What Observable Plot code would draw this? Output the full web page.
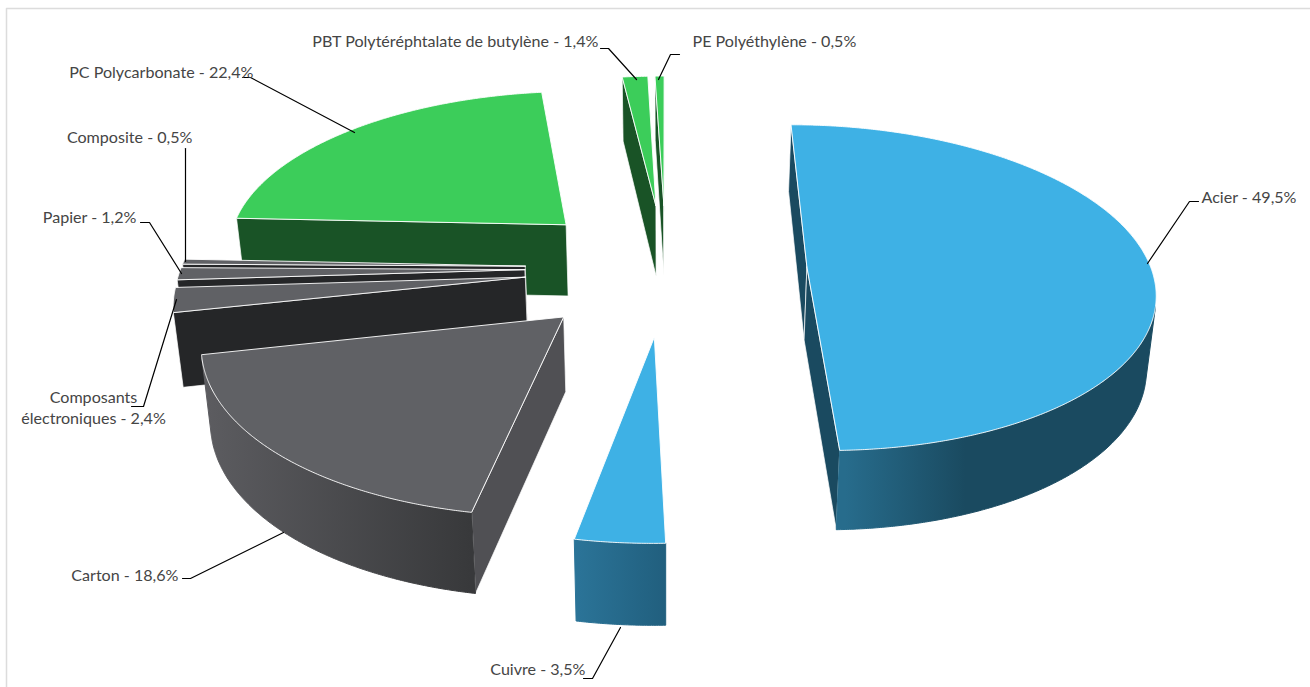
<!DOCTYPE html>
<html><head><meta charset="utf-8">
<script src="https://cdn.jsdelivr.net/npm/d3@7"></script>
<script src="https://cdn.jsdelivr.net/npm/@observablehq/plot@0.6"></script>
<style>html,body{margin:0;padding:0;background:#fff;overflow:hidden}svg{display:block}</style>
</head><body><div id="chart"></div>
<script>
// ---- data ----
const materials = ["Acier","Cuivre","Carton","Composants\nélectroniques","Papier","Composite","PC Polycarbonate","PBT Polytéréphtalate de butylène","PE Polyéthylène"];
const shares = [49.5,3.5,18.6,2.4,1.2,0.5,22.4,1.4,0.5];
const shareLabels = ["49,5%","3,5%","18,6%","2,4%","1,2%","0,5%","22,4%","1,4%","0,5%"];
const families = ["blue","blue","grey","dark","dark","dark","green","green","green"];

// ---- layout and styles (not data) ----
const W = 1310, H = 687;
const view = {cx:665.5, cy:267.5, R:344, k:160.5, p:0.127, explode:0.41, start:0};
const paintOrder = [8,7,6,5,4,3,2,0,1];
const topColor = {blue:"#3EB1E5", green:"#3CCD5A", grey:"#606165", dark:"#606165"};
const sideColor = {blue:"#1A4A60", green:"#195326", grey:"#505054", dark:"#252628"};
const gradients = [
  {id:"gAcier", x1:845, x2:965, c1:"#276C8C", c2:"#1A4A60"},
  {id:"gCuivre", x1:575, x2:665, c1:"#2B7498", c2:"#215F7E"},
  {id:"gCarton", x1:205, x2:470, c1:"#5C5C60", c2:"#38393B"}
];
const outerFill = ["url(#gAcier)","url(#gCuivre)","url(#gCarton)",null,null,null,"#195326","#195326","#195326"];
// leader elbows and text positions of the labels, screen pixels
const leaderPaths = [
  [[1147,263],[1189,201],[1198,201]],
  [[620,627],[592,678],[583,678]],
  [[283,532],[190,578],[182,578]],
  [[176,299],[143,406],[131,406]],
  [[181,273],[149,222],[140,222]],
  [[185,261],[185,148]],
  [[354,132],[250,77],[242,77]],
  [[636,79],[608,48],[600,48]],
  [[658,79],[670,54],[679,54]]
];
const labelPos = [
  {x:1201,y:196,a:"start"},{x:585,y:668,a:"end"},{x:178,y:574,a:"end"},
  {x:93,y:406,a:"middle"},{x:136,y:216,a:"end"},{x:192,y:136,a:"end"},
  {x:253,y:71,a:"end"},{x:598,y:40,a:"end"},{x:692,y:40,a:"start"}
];

// ---- geometry from the shares ----
const rad = d => d*Math.PI/180;
function projTop(X,Y){const w=1+view.p*Y;return {x:view.cx+view.R*X/w,y:view.cy-view.k*Y/w,w};}
function projBottom(X,Y){const t=projTop(X,Y);return {x:view.cx+(t.x-view.cx)*0.98,y:t.y+64+(1.18-t.w)*50};}
function area(q){let s=0;q.forEach((a,i)=>{const b=q[(i+1)%q.length];s+=a.x*b.y-b.x*a.y;});return s;}

const total = d3.sum(shares);
let acc = view.start;
const slices = shares.map((v,i)=>{
  const a0=acc,a1=acc+v/total*360;acc=a1;
  const mid=rad((a0+a1)/2);
  const X0=view.explode*Math.sin(mid),Y0=view.explode*Math.cos(mid);
  const n=Math.max(2,Math.ceil((a1-a0)*3));
  const rim=d3.range(n+1).map(j=>{const a=rad(a0+(a1-a0)*j/n);return [X0+Math.sin(a),Y0+Math.cos(a)];});
  return {i,X0,Y0,rim,fam:families[i]};
});

function faces(s){
  const out=[];
  const rt=s.rim.map(p=>projTop(...p)), rb=s.rim.map(p=>projBottom(...p));
  const at=projTop(s.X0,s.Y0), ab=projBottom(s.X0,s.Y0);
  const side=sideColor[s.fam];
  const startQ=[at,rt[0],rb[0],ab], endQ=[rt[rt.length-1],at,ab,rb[rb.length-1]];
  if(area(startQ)<0) out.push({pts:startQ,fill:side,stroke:"#fff",so:0.7});
  if(area(endQ)<0) out.push({pts:endQ,fill:side,stroke:"#fff",so:0.7});
  // outer wall: contiguous runs of the segments that face the viewer
  let run=null;
  const flush=()=>{if(run){const ids=run;out.push({pts:[...ids.map(j=>rt[j]),...ids.slice().reverse().map(j=>rb[j])],fill:outerFill[s.i],stroke:outerFill[s.i],so:1});run=null;}};
  if(outerFill[s.i]){
    for(let j=0;j<rt.length-1;j++){
      const q=[rt[j],rt[j+1],rb[j+1],rb[j]];
      if(area(q)<0){if(!run)run=[j];run.push(j+1);}else flush();
    }
    flush();
  }
  out.push({pts:[at,...rt],fill:topColor[s.fam],stroke:"#fff",so:0.9,isTop:true});
  return out;
}

const faceMarks = paintOrder.flatMap(i=>faces(slices[i]).map(f=>
  Plot.line([...f.pts,f.pts[0]],{x:"x",y:"y",fill:f.fill,stroke:f.stroke,strokeOpacity:f.so,strokeWidth:1,curve:"linear",strokeLinejoin:"round"})
));

const leaderMarks = leaderPaths.map(path=>
  Plot.line(path,{x:d=>d[0],y:d=>d[1],stroke:"#000",strokeWidth:1.2,curve:"linear"})
);
const labelMarks = materials.map((m,i)=>{
  const [line1,line2]=m.split("\n");
  const text=line2?`${line1}\n${line2} - ${shareLabels[i]}`:`${m} - ${shareLabels[i]}`;
  return Plot.text([text],{x:()=>labelPos[i].x,y:()=>labelPos[i].y,text:d=>d,textAnchor:labelPos[i].a,lineAnchor:"middle",lineHeight:1.3,
    fontFamily:"Lato",fontSize:16.1,fill:"#454545"});
});

const defsMark = () => {
  const defs=d3.create("svg:defs");
  gradients.forEach(g=>{
    const lg=defs.append("linearGradient").attr("id",g.id).attr("gradientUnits","userSpaceOnUse")
      .attr("x1",g.x1).attr("x2",g.x2).attr("y1",0).attr("y2",0);
    lg.append("stop").attr("offset",0).attr("stop-color",g.c1);
    lg.append("stop").attr("offset",1).attr("stop-color",g.c2);
  });
  return defs.node();
};

const chart = Plot.plot({
  width:W,height:H,margin:0,
  style:{background:"#fff"},
  x:{domain:[0,W],range:[0,W],axis:null},
  y:{domain:[0,H],range:[0,H],axis:null},
  marks:[
    defsMark,
    Plot.line([[W,8],[6,8],[6,H]],{x:d=>d[0],y:d=>d[1],stroke:"#dcdcdc",strokeWidth:1.5,curve:"linear"}),
    ...faceMarks,...leaderMarks,...labelMarks
  ]
});
document.getElementById("chart").append(chart);
</script></body></html>
